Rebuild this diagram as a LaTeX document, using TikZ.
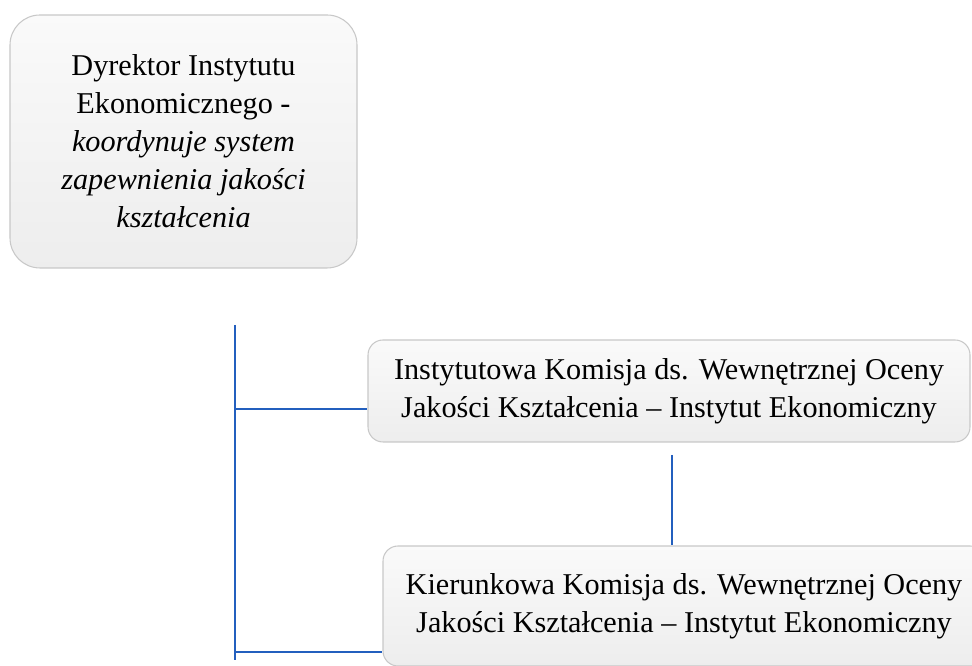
\documentclass[tikz,border=0pt]{standalone}
\usepackage{fontspec}
\setmainfont{Liberation Serif}
\definecolor{linkblue}{RGB}{35,95,190}
\definecolor{boxedge}{RGB}{200,200,200}
\begin{document}
\begin{tikzpicture}[
		box/.style={draw=boxedge, line width=0.6pt, top color=white!98!black, bottom color=white!93!black, align=center, font=\fontsize{17.2}{21.6}\selectfont, inner sep=0pt},
		link/.style={draw=linkblue, line width=0.8pt}
	]
	\clip (0,0) rectangle (19.44,13.32);
	\node[box, rounded corners=0.6cm, minimum width=6.94cm, minimum height=5.06cm] (D) at (3.67,10.49)
	{Dyrektor Instytutu\\ Ekonomicznego -\\ \textit{koordynuje system}\\ \textit{zapewnienia jakości}\\ \textit{kształcenia}};
	\node[box, rounded corners=0.3cm, minimum width=12.04cm, minimum height=2.04cm] (IK) at (13.38,5.5)
	{Instytutowa Komisja ds. Wewnętrznej Oceny\\ Jakości Kształcenia -- Instytut Ekonomiczny};
	\node[box, rounded corners=0.3cm, minimum width=12.04cm, minimum height=2.4cm] (KK) at (13.68,1.2)
	{Kierunkowa Komisja ds. Wewnętrznej Oceny\\ Jakości Kształcenia -- Instytut Ekonomiczny};

	\coordinate (top) at (4.7,6.82);
	\coordinate (bot) at (4.7,0.12);
	\coordinate (j1) at (4.7,5.14);
	\coordinate (j2) at (4.7,0.28);
	\coordinate (mid) at (13.44,4.22);
	\draw[link] (top) -- (bot);
	\draw[link] (j1) -- (j1 -| IK.west);
	\draw[link] (j2) -- (j2 -| KK.west);
	\draw[link] (mid) -- (mid |- KK.north);
\end{tikzpicture}
\end{document}
